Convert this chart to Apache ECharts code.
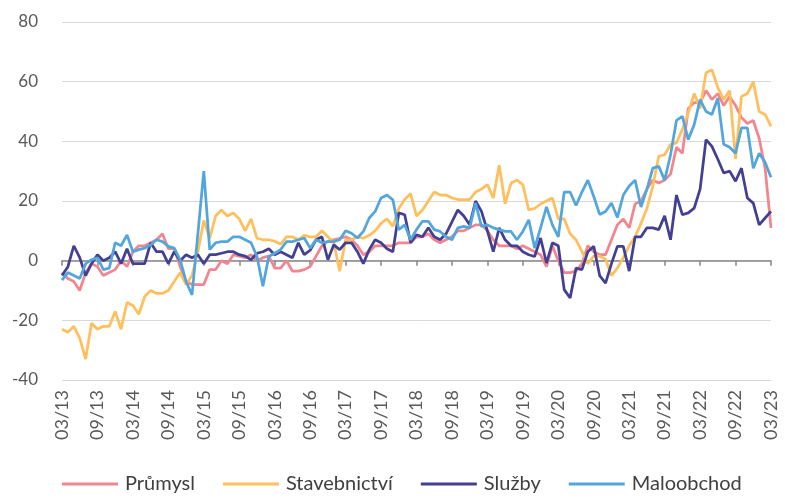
<!DOCTYPE html>
<html>
<head>
<meta charset="utf-8">
<script src="https://cdn.jsdelivr.net/npm/echarts@6/dist/echarts.min.js"></script>
<style>
html,body{margin:0;padding:0;background:#fff;}
#chart{width:785px;height:500px;}
</style>
</head>
<body>
<div id="chart"></div>
<script>
// Monthly categories 03/13 .. 03/23
const categories = [];
for (let y = 13; y <= 23; y++) {
  for (let m = 1; m <= 12; m++) {
    if ((y === 13 && m < 3) || (y === 23 && m > 3)) continue;
    categories.push((m < 10 ? '0' + m : '' + m) + '/' + y);
  }
}

const seriesNames = ['Průmysl', 'Stavebnictví', 'Služby', 'Maloobchod'];
const yTicks = [-40, -20, 0, 20, 40, 60, 80];

const prumysl = [
  -4, -6, -7, -10, -4, -1, -2, -5, -4, -3, 0, -2, 3, 5, 5, 6, 7, 9, 4, 4, -2, -7, -8, -8, -8,
  -3, -3, 0, -1, 2, 1.5, 1, 2, 0, 1, 1.5, -2.5, -2.5, 0, -3.5, -3.5, -3, -2, 1.5, 5, 6.5, 7, 7.5, 8,
  7, 5, 2, 3, 5, 5, 5, 5, 6, 6, 6, 8, 8, 9, 7, 6, 7, 8, 10, 10, 11, 12, 12, 10,
  7, 5, 5, 5, 4, 5, 4, 3, 2, -2, 5, 0, -4, -4, -3.5, -1, 5, 3, 2, 2, 7, 12, 14, 11,
  19, 20, 24, 27, 26, 27, 29, 38, 36, 51, 53, 53, 57, 54, 56, 52, 55, 52, 48, 46, 47, 41, 31, 11
];

const stavebnictvi = [
  -23, -24, -22, -26, -33, -21, -23, -22, -22, -17, -23, -14, -15, -18, -12, -10, -11, -11, -10, -7, -4, -8, -5, 3, 13.5,
  7.5, 15, 17, 15, 16, 14, 10, 14, 7.5, 7, 7, 6.5, 5.5, 8, 8, 7, 8.5, 8, 8, 10, 8, 6, -3.5, 7,
  7, 8, 7.5, 8.5, 10, 12.5, 14, 11.5, 17.5, 20.5, 22.5, 15, 17, 20, 23, 22, 22, 21, 20.5, 20.5, 20.5, 23, 24, 25.5,
  21, 32, 19, 26, 27, 25.5, 17, 17.5, 19, 20, 21, 14, 14, 9, 7, 3, -1, 1.5, 1.5, 0.5, -5, -2.5, 1, 5,
  8, 12.5, 17.5, 25, 35, 35.5, 39, 39.5, 44, 49.5, 56, 51, 63, 64, 58, 54, 57, 34, 55, 56, 60, 50, 49, 45
];

const sluzby = [
  -5, -2, 5, 1, -5, -1, 2, 0, 1, 3, -1, 4, -1, -1, -1, 6, 3, 3, -1, 3, 0, 2, 1, 2, -1,
  2, 2, 2.5, 3, 3, 2, 1.5, 0.3, 2.5, 3, 4, 2, 3, 2, 1, 6, 2, 3.5, 7, 8, 0.3, 5.3, 3.7, 6,
  6, 3, -1, 3.7, 7, 6, 4, 3, 16, 15.4, 6, 8.7, 8, 11, 8, 7, 9, 13, 17, 15, 12, 20, 16.5, 10,
  3, 11, 7, 5, 5, 3, 2, 1.4, 7.6, -0.8, 6, 5, -9.7, -12.5, -2.5, -3, 3, 4.8, -5, -7.5, -1, 4.8, 4.8, -3.5,
  8, 8, 11, 11, 10.4, 15, 7, 22, 15.4, 16, 17.6, 24, 40.6, 38.3, 34, 29.4, 30, 26.6, 31, 21, 19.3, 12, 14.3, 16.5
];

const maloobchod = [
  -6.5, -4, -5, -6, -1, 0.3, 1, -3, -2.5, 6, 5, 8.6, 3, 3.7, 4.2, 5.3, 7, 6.4, 4.8, 4.2, 0.3, -7, -11.5, 9, 30,
  3.7, 6, 6.4, 6.4, 8, 8, 7, 6, 1.4, -8.6, 1.4, 2.5, 3.7, 6.4, 6.4, 7, 7.6, 4.2, 7, 6, 6.4, 6.4, 7, 10,
  9.2, 7.6, 9.8, 14.3, 16.5, 21, 22, 20.4, 10.4, 12, 7, 10.4, 13.2, 13.2, 10.4, 9.8, 8, 7, 11, 11.5, 11, 19.3, 11.5, 12,
  11, 10.4, 9.8, 9.8, 7, 9.8, 13.7, 4.2, 11, 18, 12, 8, 23, 23, 18.5, 23, 27, 21.5, 15.5, 16.5, 19.3, 14.5, 22, 25,
  27, 18, 24, 31, 31.6, 27, 35.5, 47, 48.4, 40.6, 45.6, 54, 50, 49, 54.5, 39, 38, 36, 44.5, 44.5, 31, 36, 33, 28
];

const colors = ['#F2858E', '#FFBF5C', '#433F92', '#52A6DC'];
const FONT = 'Lato';

const chart = echarts.init(document.getElementById('chart'), null, {renderer: 'canvas'});
const every6 = (idx) => idx % 6 === 0;

chart.setOption({
  animation: false,
  backgroundColor: '#ffffff',
  color: colors,
  grid: {left: 62, right: 14, top: 22, bottom: 120, containLabel: false},
  legend: {
    bottom: 1,
    left: 57,
    icon: 'rect',
    itemWidth: 56,
    itemHeight: 3,
    itemGap: 28,
    textStyle: {fontFamily: FONT, fontSize: 20, color: '#404040', padding: [0, 0, 0, 2]},
    data: seriesNames
  },
  xAxis: [
    {
      type: 'category',
      data: categories,
      boundaryGap: false,
      position: 'bottom',
      axisLine: {show: false, onZero: false},
      axisTick: {show: false},
      axisLabel: {
        interval: every6,
        rotate: 90,
        margin: 10,
        color: '#595959',
        fontFamily: FONT,
        fontSize: 18
      },
      splitLine: {show: false}
    },
    {
      type: 'category',
      data: categories,
      boundaryGap: false,
      position: 'bottom',
      axisLine: {show: true, onZero: true, lineStyle: {color: '#868686', width: 1.5}},
      axisTick: {show: true, interval: every6, length: 5, lineStyle: {color: '#868686', width: 1.5}},
      axisLabel: {show: false},
      splitLine: {show: false}
    }
  ],
  yAxis: {
    type: 'value',
    min: yTicks[0],
    max: yTicks[yTicks.length - 1],
    interval: 20,
    axisLine: {show: false},
    axisTick: {show: false},
    axisLabel: {color: '#595959', fontFamily: FONT, fontSize: 17, margin: 24},
    splitLine: {lineStyle: {color: '#D9D9D9', width: 1}}
  },
  series: [
    {name: seriesNames[0], type: 'line', data: prumysl},
    {name: seriesNames[1], type: 'line', data: stavebnictvi},
    {name: seriesNames[2], type: 'line', data: sluzby},
    {name: seriesNames[3], type: 'line', data: maloobchod}
  ].map(s => Object.assign(s, {
    xAxisIndex: 0,
    symbol: 'none',
    showSymbol: false,
    smooth: false,
    lineStyle: {width: 2.75},
    emphasis: {disabled: true}
  }))
});
</script>
</body>
</html>
